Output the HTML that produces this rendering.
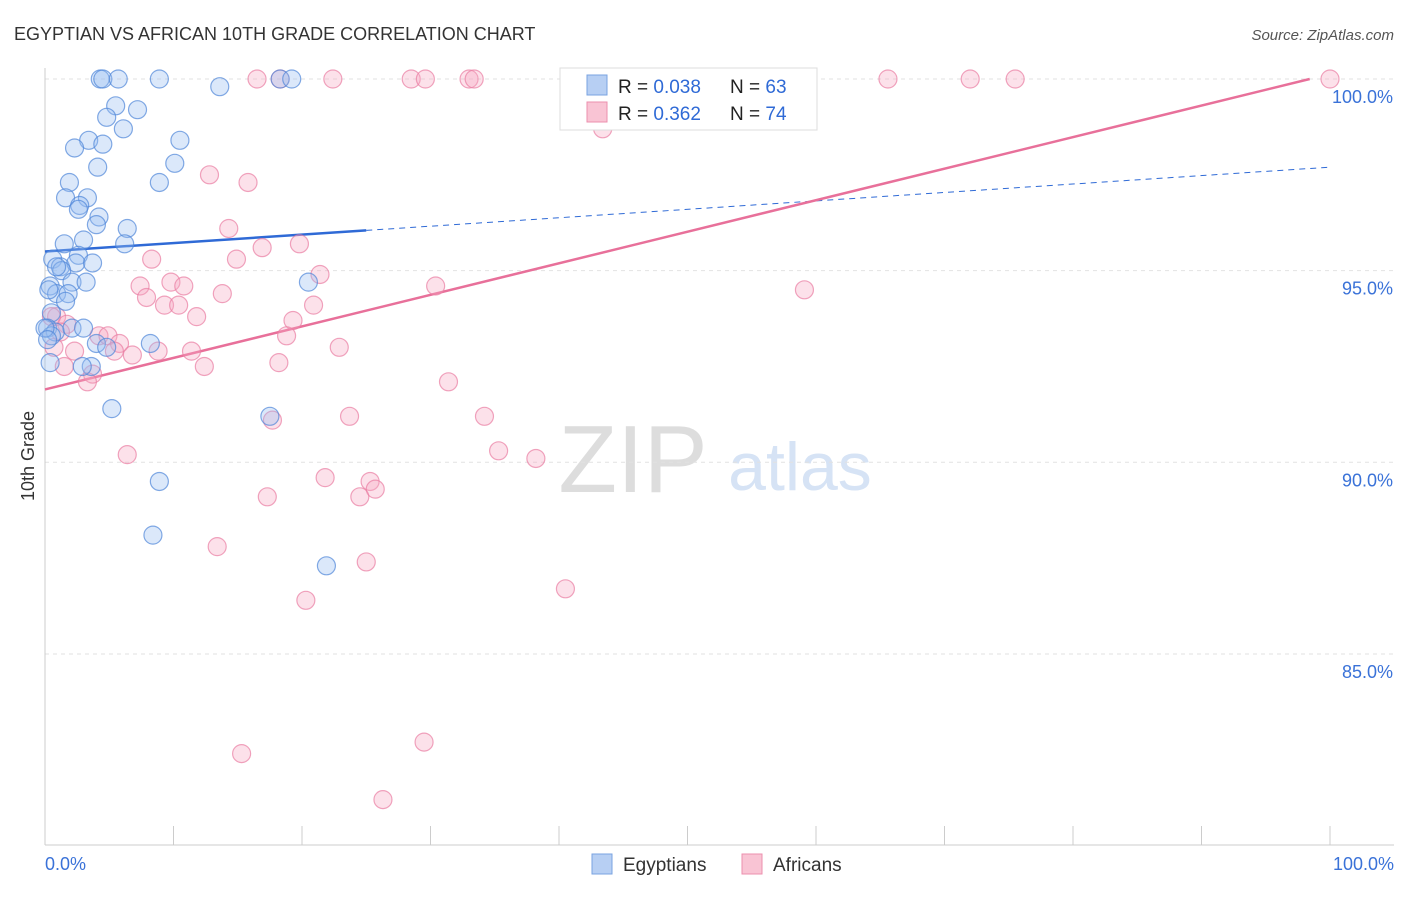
<!DOCTYPE html>
<html><head><meta charset="utf-8"><style>
body{margin:0;background:#fff;font-family:"Liberation Sans",sans-serif}
svg text{font-family:"Liberation Sans",sans-serif}
</style></head><body>
<svg id="chart" width="1406" height="892">
<text x="14" y="40" font-size="18" fill="#333">EGYPTIAN VS AFRICAN 10TH GRADE CORRELATION CHART</text>
<text x="1394" y="40" font-size="15" fill="#555" font-style="italic" text-anchor="end">Source: ZipAtlas.com</text>
<text x="34" y="456" font-size="18" fill="#333" transform="rotate(-90 34 456)" text-anchor="middle">10th Grade</text>
<text x="633" y="492" font-size="96" fill="#ddd" font-family="Liberation Serif" text-anchor="middle">ZIP</text>
<text x="800" y="490" font-size="68" fill="#d6e3f5" text-anchor="middle">atlas</text>
<g id="grid"></g><g id="axes"></g><g id="lines"></g><g id="pts"></g>
<g>
<rect x="560" y="68" width="257" height="62" fill="#fff" stroke="#ddd"/>
<rect x="587" y="75" width="20" height="20" fill="#b7cff3" stroke="#7aa3e0"/>
<rect x="587" y="102" width="20" height="20" fill="#f9c4d4" stroke="#ec8fae"/>
<text x="618" y="93" font-size="19" fill="#222">R = <tspan fill="#2f6ad6">0.038</tspan></text>
<text x="730" y="93" font-size="19" fill="#222">N = <tspan fill="#2f6ad6">63</tspan></text>
<text x="618" y="120" font-size="19" fill="#222">R = <tspan fill="#2f6ad6">0.362</tspan></text>
<text x="730" y="120" font-size="19" fill="#222">N = <tspan fill="#2f6ad6">74</tspan></text>
</g>
<g>
<rect x="592" y="854" width="20" height="20" fill="#b7cff3" stroke="#7aa3e0"/>
<text x="623" y="871" font-size="19" fill="#333">Egyptians</text>
<rect x="742" y="854" width="20" height="20" fill="#f9c4d4" stroke="#ec8fae"/>
<text x="773" y="871" font-size="19" fill="#333">Africans</text>
</g>
</svg>
<script>
const yTicks=[100,95,90,85];
const xTickLabels=["0.0%","100.0%"];
const blueX=[4.3,4.5,5.7,8.9,18.3,19.2,13.6,5.5,7.2,4.8,6.1,10.5,3.4,2.3,4.5,10.1,4.1,1.9,8.9,3.3,1.6,2.7,2.6,4.2,4.0,6.4,3.0,1.5,6.2,0.6,2.6,1.2,2.4,3.7,1.3,0.4,2.1,3.2,20.5,0.9,1.8,1.6,0.5,0.2,0.8,2.1,3.0,0.5,4.0,8.2,4.8,0.4,3.6,2.9,5.2,17.5,8.9,8.4,21.9,0,0.2,0.9,0.3];
const blueY=[100,100,100,100,100,100,99.8,99.3,99.2,99.0,98.7,98.4,98.4,98.2,98.3,97.8,97.7,97.3,97.3,96.9,96.9,96.7,96.6,96.4,96.2,96.1,95.8,95.7,95.7,95.3,95.4,95.1,95.2,95.2,95.0,94.6,94.7,94.7,94.7,94.4,94.4,94.2,93.9,93.5,93.4,93.5,93.5,93.3,93.1,93.1,93.0,92.6,92.5,92.5,91.4,91.2,89.5,88.1,87.3,93.5,93.2,95.1,94.5];
const pinkX=[16.5,18.3,22.4,28.5,29.6,33.0,33.4,42.4,52.4,65.6,72.0,75.5,100,42.9,43.4,12.8,15.8,14.3,19.8,16.9,8.3,14.9,21.4,7.4,9.8,10.8,13.8,30.4,59.1,7.9,9.3,10.4,20.9,11.8,19.3,0.9,1.7,18.8,4.2,4.9,5.8,0.7,8.8,11.4,22.9,6.8,2.3,5.4,12.4,18.2,1.5,3.7,3.3,31.4,23.7,34.2,17.7,35.3,6.4,38.2,21.8,25.3,25.7,17.3,24.5,13.4,25.0,40.5,20.3,15.3,29.5,26.3,0.5,1.2];
const pinkY=[100,100,100,100,100,100,100,100,100,100,100,100,100,99.2,98.7,97.5,97.3,96.1,95.7,95.6,95.3,95.3,94.9,94.6,94.7,94.6,94.4,94.6,94.5,94.3,94.1,94.1,94.1,93.8,93.7,93.8,93.6,93.3,93.3,93.3,93.1,93.0,92.9,92.9,93.0,92.8,92.9,92.9,92.5,92.6,92.5,92.3,92.1,92.1,91.2,91.2,91.1,90.3,90.2,90.1,89.6,89.5,89.3,89.1,89.1,87.8,87.4,86.7,86.4,82.4,82.7,81.2,93.8,93.4];
const blueTrend=[95.5,0.022];
const pinkTrend=[91.9,0.0823];
const NS="http://www.w3.org/2000/svg";
const X=v=>45+v*12.85, Y=v=>79+(100-v)*38.33;
function mk(t,a,p){const e=document.createElementNS(NS,t);for(const k in a)e.setAttribute(k,a[k]);p.appendChild(e);return e;}
const grid=document.getElementById('grid'),axes=document.getElementById('axes'),lines=document.getElementById('lines'),pts=document.getElementById('pts');
yTicks.forEach(t=>{
 const l=mk('line',{x1:45,x2:1394,y1:Y(t),y2:Y(t),stroke:'#e2e2e2','stroke-dasharray':'4,4'},grid);
 
 
 const tx=mk('text',{x:1393,y:Y(t)+24,'font-size':18,fill:'#3a72d8','text-anchor':'end'},axes);
 tx.textContent=t.toFixed(1)+'%';
 
 
});
mk('line',{x1:45,x2:45,y1:68,y2:845,stroke:'#ccc'},axes);
mk('line',{x1:45,x2:1394,y1:845,y2:845,stroke:'#ccc'},axes);
for(let i=0;i<=10;i++){const t=mk('line',{x1:X(i*10),x2:X(i*10),y1:826,y2:845,stroke:'#ccc'},axes);
 
 }
[[0,'start',45],[1,'end',1394]].forEach(([i,a,x])=>{const t=mk('text',{x:x,y:870,'font-size':18,fill:'#3a72d8','text-anchor':a},axes);t.textContent=xTickLabels[i];
 
 });
function dots(xs,ys,fill,stroke,name){xs.forEach((x,i)=>{const c=mk('circle',{cx:X(x),cy:Y(ys[i]),r:9,fill:fill,'fill-opacity':0.35,stroke:stroke,'stroke-opacity':0.7,'stroke-width':1.2},pts);
 
 });}
dots(pinkX,pinkY,'#f6a8c2','#e97ea3','african-point');
dots(blueX,blueY,'#98bdf0','#4f86d9','egyptian-point');
const bt=v=>blueTrend[0]+blueTrend[1]*v, pt=v=>pinkTrend[0]+pinkTrend[1]*v;
let l1=mk('line',{x1:X(0),y1:Y(bt(0)),x2:X(25),y2:Y(bt(25)),stroke:'#2f6ad6','stroke-width':2.5},lines);


let l2=mk('line',{x1:X(25),y1:Y(bt(25)),x2:X(100),y2:Y(bt(100)),stroke:'#2f6ad6','stroke-width':1,'stroke-dasharray':'6,5'},lines);


const pe=(100-pinkTrend[0])/pinkTrend[1];
let l3=mk('line',{x1:X(0),y1:Y(pt(0)),x2:X(pe),y2:Y(pt(pe)),stroke:'#e8709a','stroke-width':2.5},lines);


</script>
</body></html>
